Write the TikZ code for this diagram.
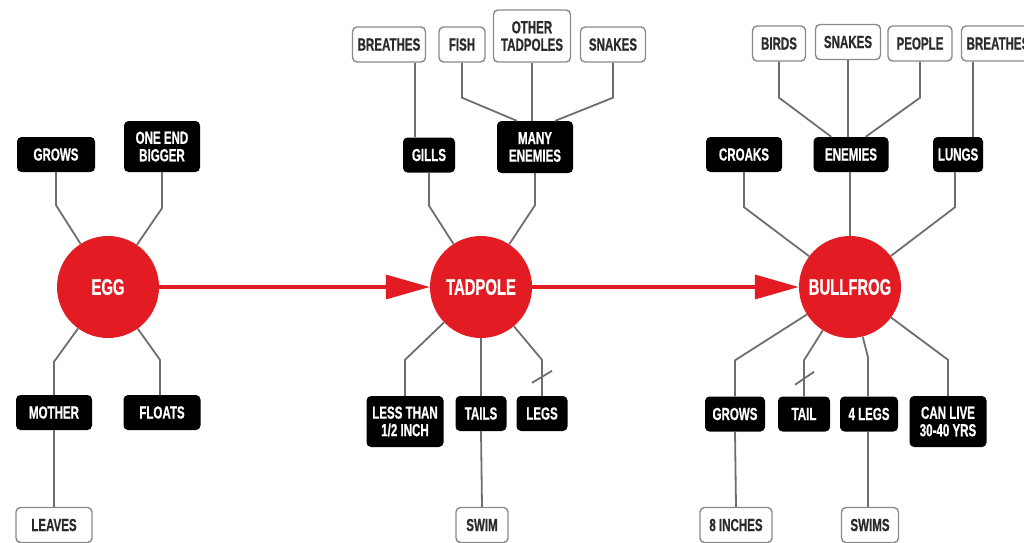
\documentclass[tikz,border=0pt]{standalone}
\usepackage{fontspec}
\newfontfamily\labelfont[FakeStretch=0.66,FakeBold=0.6]{Liberation Sans Bold}
\usetikzlibrary{arrows.meta,calc}
\definecolor{hubred}{HTML}{E31B23}
\definecolor{wire}{HTML}{6E6E6E}
\definecolor{frame}{HTML}{8A8A8A}
\definecolor{ink}{HTML}{2B2B2B}
\begin{document}
\begin{tikzpicture}[x=1pt,y=-1pt,
  boxtext/.style={font=\labelfont\fontsize{17.5}{17.5}\selectfont, align=center, inner sep=0pt},
  fact/.style={boxtext, fill=black, rounded corners=4.5pt, text=white, minimum height=35pt},
  detail/.style={boxtext, draw=frame, line width=1.4pt, fill=white, rounded corners=4.5pt, text=ink, minimum height=35pt},
  stage/.style={circle, fill=hubred, text=white, minimum size=102pt, inner sep=0pt,
    font=\labelfont\fontsize{22.5}{24}\selectfont},
  link/.style={draw=wire, line width=1.8pt},
  stagearrow/.style={draw=hubred, line width=3.5pt, -{Triangle[length=44pt,width=24pt]}}]
\useasboundingbox (0,0) rectangle (1024,542);
\clip (0,0) rectangle (1024,542);

% life stages
\node[stage] (egg)  at (108,287) {EGG};
\node[stage] (tad)  at (481,287) {TADPOLE};
\node[stage] (frog) at (850,287) {BULLFROG};
\draw[stagearrow] (egg) -- (tad);
\draw[stagearrow] (tad) -- (frog);

% egg
\node[fact, minimum width=78pt] (egrows) at (56,154.5) {GROWS};
\node[fact, minimum width=76pt, minimum height=51pt] (oneend) at (162,146.5) {ONE END\\BIGGER};
\node[fact, minimum width=76pt] (mother) at (54,412.5) {MOTHER};
\node[fact, minimum width=77pt] (floats) at (162,412.5) {FLOATS};
\node[detail, minimum width=76pt] (leaves) at (54,525) {LEAVES};
\draw[link] (egrows.south) -- ++(0,33) -- (egg);
\draw[link] (oneend.south) -- ++(0,36) -- (egg);
\draw[link] (mother.north) -- ++(0,-33) -- (egg);
\draw[link] ([xshift=-2pt]floats.north) -- ++(0,-35) -- (egg);
\draw[link] (mother.south) -- (leaves.north);

% tadpole, upper side
\node[fact, minimum width=52pt] (gills) at (429,155) {GILLS};
\node[fact, minimum width=76pt, minimum height=52pt] (tenem) at (535,147) {MANY\\ENEMIES};
\node[detail, minimum width=73pt] (tbreath) at (389,44.5) {BREATHES};
\node[detail, minimum width=46pt] (fish) at (462,44.5) {FISH};
\node[detail, minimum width=77pt, minimum height=52pt] (others) at (532,36) {OTHER\\TADPOLES};
\node[detail, minimum width=65pt] (tsnakes) at (613,44.5) {SNAKES};
\draw[link] ([xshift=26pt]tbreath.south) -- ([xshift=26pt]tbreath.south |- gills.north);
\draw[link] (fish.south) -- ++(0,35) -- ([xshift=20pt]tenem.north west);
\draw[link] (others.south) -- (others.south |- tenem.north);
\draw[link] (tsnakes.south) -- ++(0,35) -- ([xshift=-18pt]tenem.north east);
\draw[link] (gills.south) -- ++(0,33) -- (tad);
\draw[link] (tenem.south) -- ++(0,32) -- (tad);

% tadpole, lower side
\node[fact, minimum width=77pt, minimum height=51pt] (small) at (405,421.5) {LESS THAN\\1/2 INCH};
\node[fact, minimum width=51pt] (tails) at (481,413.5) {TAILS};
\node[fact, minimum width=51pt] (tlegs) at (542,413.5) {LEGS};
\node[detail, minimum width=52pt] (swim) at (482,525) {SWIM};
\draw[link] (small.north) -- ++(0,-36) -- (tad);
\draw[link] (tails.north) -- (tad.south);
\draw[link] (tlegs.north) -- ++(0,-36) -- (tad);
\draw[link] ($(tlegs.north)+(-10,-13)$) -- ++(20,-12);
\draw[link] (tails.south) -- (swim.north);

% bullfrog, upper side
\node[fact, minimum width=76pt] (croaks) at (744,154.5) {CROAKS};
\node[fact, minimum width=75pt] (fenem) at (851,154.5) {ENEMIES};
\node[fact, minimum width=50pt] (lungs) at (958,154.5) {LUNGS};
\node[detail, minimum width=53pt] (birds) at (779,43.5) {BIRDS};
\node[detail, minimum width=65pt] (fsnakes) at (848,42) {SNAKES};
\node[detail, minimum width=64pt] (people) at (920,43.5) {PEOPLE};
\node[detail, minimum width=73pt] (fbreath) at (998,43.5) {BREATHES};
\draw[link] (birds.south) -- ++(0,36) -- ([xshift=18pt]fenem.north west);
\draw[link] (fsnakes.south) -- (fsnakes.south |- fenem.north);
\draw[link] (people.south) -- ++(0,36) -- ([xshift=-23pt]fenem.north east);
\draw[link] ([xshift=-25pt]fbreath.south) -- ([xshift=-25pt]fbreath.south |- lungs.north);
\draw[link] (croaks.south) -- ++(0,35) -- (frog);
\draw[link] ([xshift=-1pt]fenem.south) -- (frog.north);
\draw[link] ([xshift=-3pt]lungs.south) -- ++(0,35) -- (frog);

% bullfrog, lower side
\node[fact, minimum width=60pt] (fgrows) at (735,414) {GROWS};
\node[fact, minimum width=52pt] (tail) at (804,414) {TAIL};
\node[fact, minimum width=58pt] (flegs) at (869,414) {4 LEGS};
\node[fact, minimum width=77pt, minimum height=51pt] (lifespan) at (948,421.5) {CAN LIVE\\30-40 YRS};
\node[detail, minimum width=72pt] (inches) at (736,525) {8 INCHES};
\node[detail, minimum width=57pt] (swims) at (870,525) {SWIMS};
\draw[link] (fgrows.north) -- ++(0,-36) -- (frog);
\draw[link] (tail.north) -- ++(0,-36) -- (frog);
\draw[link] ($(tail.north)+(-9,-11.5)$) -- ++(19,-13);
\draw[link] ([xshift=-1pt]flegs.north) -- ++(0,-39) -- (frog);
\draw[link] (lifespan.north) -- ++(0,-36) -- (frog);
\draw[link] (fgrows.south) -- (inches.north);
\draw[link] ([xshift=-1pt]flegs.south) -- ([xshift=-1pt]flegs.south |- swims.north);
\end{tikzpicture}
\end{document}
